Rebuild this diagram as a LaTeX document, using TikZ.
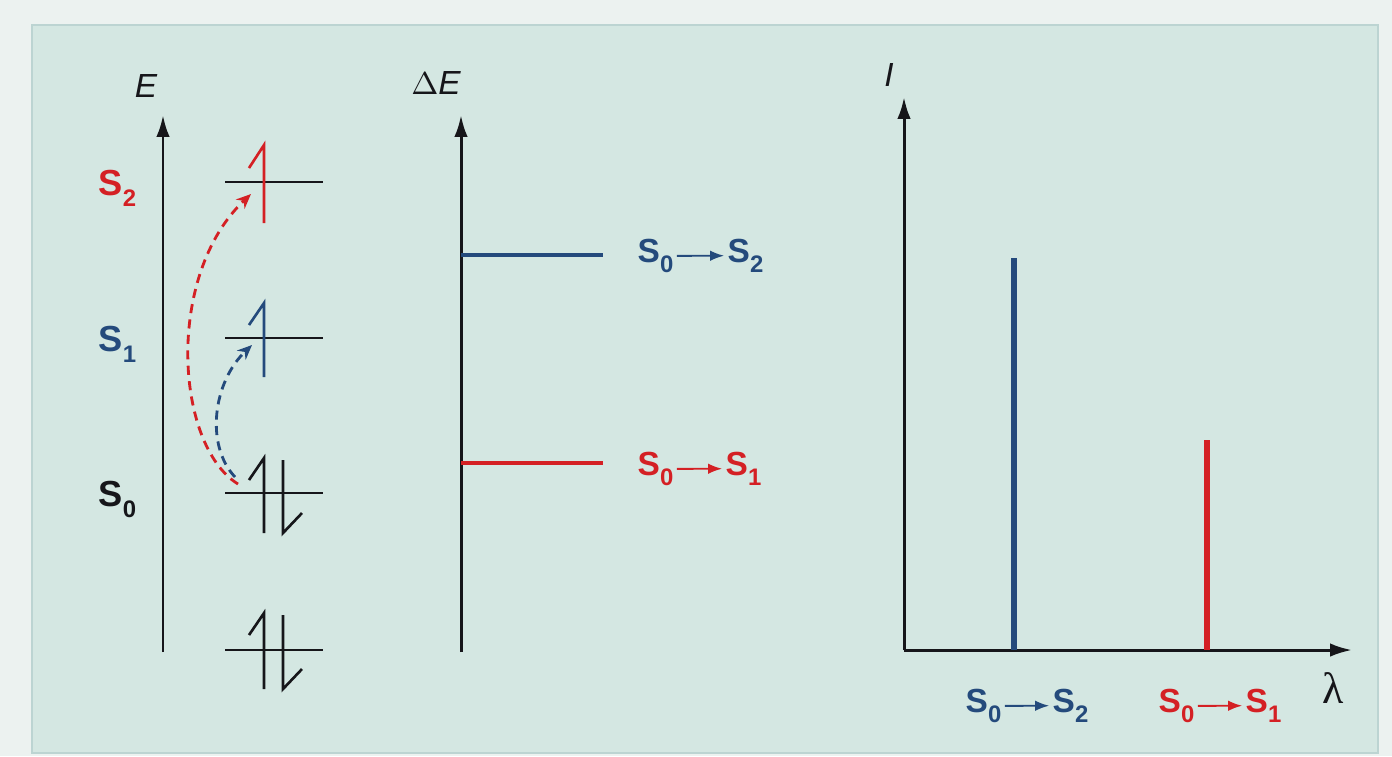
\documentclass[tikz,border=0pt]{standalone}
\usepackage{fontspec}
\setmainfont{Liberation Sans}
\newfontfamily\seriffont{Liberation Serif}
\usetikzlibrary{arrows.meta}
\definecolor{bgout}{RGB}{236,242,240}
\definecolor{panel}{RGB}{212,231,226}
\definecolor{panelline}{RGB}{188,212,210}
\definecolor{rd}{RGB}{212,32,36}
\definecolor{bl}{RGB}{36,74,124}
\definecolor{bk}{RGB}{22,22,26}
\newcommand\subd[1]{\raisebox{-0.32em}{\fontsize{6.8}{7}\selectfont #1}}
\tikzset{
  axis/.style={line width=0.85pt, draw=bk, -{Latex[length=6.2pt,width=3.8pt]}},
  level/.style={line width=0.8pt, draw=bk},
  elec/.style={line width=0.75pt},
  lab/.style={font=\bfseries\fontsize{10.3}{12}\selectfont, inner sep=0pt, anchor=base west},
  tlab/.style={font=\bfseries\fontsize{9.5}{11}\selectfont, inner sep=0pt, anchor=base west},
  axlab/.style={font=\itshape\fontsize{9.5}{11}\selectfont, inner sep=0pt, text=bk},
  trans/.style={line width=0.8pt, dash pattern=on 2.6pt off 1.8pt, -{Stealth[length=4.2pt,width=3.6pt]}},
  tarrow/.style={line width=0.55pt, shorten <=0.8pt, shorten >=0.8pt, -{Latex[length=4pt,width=3pt]}}
}
\begin{document}
\begin{tikzpicture}[x=0.01cm,y=-0.01cm]
\useasboundingbox (0,0) rectangle (1392,756);
\fill[bgout] (0,0) rectangle (1392,756);
\filldraw[fill=panel, draw=panelline, line width=0.5pt] (32,25) rectangle (1378,753);

% ---------- panel 1: energy levels ----------
\coordinate (Eo) at (163,652);
\coordinate (Et) at (163,115);
\draw[axis] (Eo) -- (Et);
\node[axlab] (Elab) at (146,86) {E};

\node[lab, text=rd] (S2) at (98,195) {S\subd{2}};
\node[lab, text=bl] (S1) at (98,351) {S\subd{1}};
\node[lab, text=bk] (S0) at (98,506) {S\subd{0}};

% levels
\foreach \n/\y in {L2/182, L1/338, L0/493, Lm/650}{
  \coordinate (\n a) at (225,\y);
  \coordinate (\n b) at (323,\y);
  \draw[level] (\n a) -- (\n b);
}
% electrons (half arrows)
\draw[elec, rd] (264,223) -- (264,145) -- (249,168);
\draw[elec, bl] (264,377) -- (264,303) -- (249,325);
\draw[elec, bk] (264,533) -- (264,458) -- (249,480);
\draw[elec, bk] (283,460) -- (283,533) -- (302,513);
\draw[elec, bk] (264,689) -- (264,613) -- (249,635);
\draw[elec, bk] (283,615) -- (283,689) -- (302,669);

% excitation arrows
\coordinate (r0) at (238,484);
\coordinate (r1) at (251,194);
\draw[trans, rd] (r0) .. controls (175,445) and (165,275) .. (r1);
\coordinate (b0) at (235,477);
\coordinate (b1) at (252,345);
\draw[trans, bl] (b0) .. controls (205,445) and (213,382) .. (b1);

% ---------- panel 2: transition energies ----------
\coordinate (Do) at (461,652);
\coordinate (Dt) at (461,115);
\draw[axis] (Do) -- (Dt);
\node[axlab] (DElab) at (436,83) {{\upshape$\Delta$}E};

\coordinate (t2a) at (461,255);
\coordinate (t2b) at (603,255);
\draw[bl, line width=1.2pt] (t2a) -- (t2b);
\coordinate (t1a) at (461,463);
\coordinate (t1b) at (603,463);
\draw[rd, line width=1.4pt] (t1a) -- (t1b);

\node[tlab, text=bl] (p2a) at (637,262) {S\subd{0}};
\node[tlab, text=bl] (p2b) at (727,262) {S\subd{2}};
\draw[tarrow, bl] (p2a.east) -- (p2b.west);
\node[tlab, text=rd] (p1a) at (637,475) {S\subd{0}};
\node[tlab, text=rd] (p1b) at (725,475) {S\subd{1}};
\draw[tarrow, rd] (p1a.east) -- (p1b.west);

% ---------- panel 3: spectrum ----------
\coordinate (Io) at (904,650);
\coordinate (It) at (904,97);
\coordinate (Lx) at (1352,650);
\draw[axis] (Io) -- (It);
\draw[axis] (Io) -- (Lx);
\node[axlab] (Ilab) at (889,75) {I};
\node[inner sep=0pt, text=bk, font=\seriffont\fontsize{12.5}{14}\selectfont] (lam) at (1333,688) {λ};

\coordinate (bb0) at (1014,650);
\coordinate (bb1) at (1014,258);
\draw[bl, line width=1.8pt] (bb0) -- (bb1);
\coordinate (rb0) at (1207,650);
\coordinate (rb1) at (1207,440);
\draw[rd, line width=1.8pt] (rb0) -- (rb1);

\node[tlab, text=bl] (q2a) at (965,712) {S\subd{0}};
\node[tlab, text=bl] (q2b) at (1052,712) {S\subd{2}};
\draw[tarrow, bl] (q2a.east) -- (q2b.west);
\node[tlab, text=rd] (q1a) at (1158,712) {S\subd{0}};
\node[tlab, text=rd] (q1b) at (1245,712) {S\subd{1}};
\draw[tarrow, rd] (q1a.east) -- (q1b.west);
\end{tikzpicture}
\end{document}
